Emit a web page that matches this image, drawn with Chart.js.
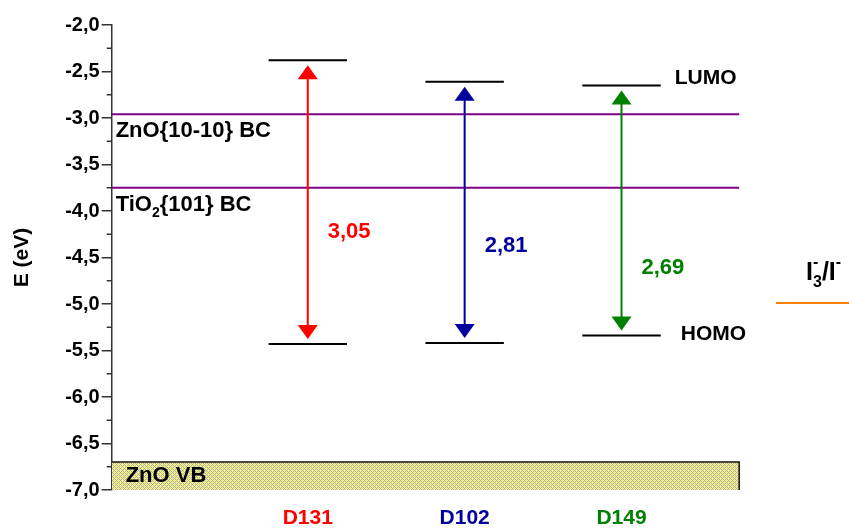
<!DOCTYPE html>
<html>
<head>
<meta charset="utf-8">
<script src="https://cdn.jsdelivr.net/npm/chart.js@4/dist/chart.umd.min.js"></script>
<style>
  html, body { margin: 0; padding: 0; background: #fff; }
</style>
</head>
<body>
<canvas id="levels" width="849" height="529"></canvas>
<script>
// energy levels (eV)
const dyes = ['D131', 'D102', 'D149'];
const lumo = [-2.38, -2.61, -2.65];
const homo = [-5.43, -5.42, -5.34];
const slotStart = [2, 4, 6];
const slotEnd = [3, 5, 7];

const znoBC = -2.96;
const tio2BC = -3.75;
const znoVB = -6.7;
const redox = -4.99;

const yMin = -7, yMax = -2, yStep = 0.5;

const FONT = "'Liberation Sans', Arial, sans-serif";
const dyeColors = ['#ff0000', '#00009c', '#008000'];
// where the gap numbers sit (eV)
const gapLabelAt = [-4.22, -4.38, -4.61];

// text with sub / superscripts
function runs(ctx, x, y, parts, size) {
  let cx = x;
  const small = `bold ${Math.round(size * 0.62)}px ${FONT}`;
  parts.forEach(p => {
    if (p.stack) {
      ctx.font = small;
      const w = Math.max(ctx.measureText(p.sub).width, ctx.measureText(p.sup).width);
      ctx.fillText(p.sub, cx, y + size * 0.38);
      ctx.fillText(p.sup, cx, y - size * 0.4);
      cx += w;
    } else if (p.sub) {
      ctx.font = small;
      ctx.fillText(p.sub, cx, y + size * 0.38);
      cx += ctx.measureText(p.sub).width;
    } else if (p.sup) {
      ctx.font = small;
      ctx.fillText(p.sup, cx, y - size * 0.4);
      cx += ctx.measureText(p.sup).width;
    } else {
      ctx.font = `bold ${size}px ${FONT}`;
      ctx.fillText(p.t, cx, y);
      cx += ctx.measureText(p.t).width;
    }
  });
}

const decor = {
  id: 'decor',
  beforeDatasetsDraw(chart) {
    // ZnO valence band, cross-hatched yellow/grey
    const {ctx, scales: {x, y}} = chart;
    const l = Math.round(x.getPixelForValue(0));
    const r = Math.round(x.getPixelForValue(8));
    const t = Math.round(y.getPixelForValue(znoVB));
    const b = Math.round(y.getPixelForValue(yMin));
    ctx.save();
    ctx.fillStyle = '#f4f27a';
    ctx.fillRect(l, t, r - l, b - t);
    ctx.fillStyle = '#b0b0bc';
    for (let py = t; py < b; py++) {
      for (let px = l; px < r; px++) {
        const a = (px + py) % 4, c = (px - py + 400) % 4;
        if (a === 0 || c === 0) ctx.fillRect(px, py, 1, 1);
      }
    }
    ctx.restore();
  },
  afterDatasetsDraw(chart) {
    const {ctx, chartArea: area, scales: {x, y}} = chart;
    ctx.save();

    // minor ticks
    ctx.strokeStyle = '#333';
    ctx.lineWidth = 1.5;
    for (let v = yMin + yStep / 2; v < yMax; v += yStep) {
      const py = y.getPixelForValue(v);
      ctx.beginPath();
      ctx.moveTo(area.left - 5, py);
      ctx.lineTo(area.left, py);
      ctx.stroke();
    }

    // double arrows HOMO <-> LUMO
    dyes.forEach((d, i) => {
      const px = x.getPixelForValue((slotStart[i] + slotEnd[i]) / 2);
      const top = y.getPixelForValue(lumo[i]) + 5;
      const bot = y.getPixelForValue(homo[i]) - 5;
      ctx.strokeStyle = dyeColors[i];
      ctx.fillStyle = dyeColors[i];
      ctx.lineWidth = 2;
      ctx.beginPath();
      ctx.moveTo(px, top + 10);
      ctx.lineTo(px, bot - 10);
      ctx.stroke();
      [[top, 1], [bot, -1]].forEach(([ty, dir]) => {
        ctx.beginPath();
        ctx.moveTo(px, ty);
        ctx.lineTo(px - 10, ty + dir * 14);
        ctx.lineTo(px + 10, ty + dir * 14);
        ctx.closePath();
        ctx.fill();
      });
      const gap = (lumo[i] - homo[i]).toFixed(2).replace('.', ',');
      ctx.textBaseline = 'middle';
      ctx.textAlign = 'left';
      ctx.font = `bold 22px ${FONT}`;
      ctx.fillText(gap, px + 20, y.getPixelForValue(gapLabelAt[i]));
    });

    // band labels
    ctx.fillStyle = '#000';
    ctx.textBaseline = 'middle';
    ctx.textAlign = 'left';
    runs(ctx, area.left + 4, y.getPixelForValue(znoBC) + 17, [{t: 'ZnO{10-10} BC'}], 22);
    runs(ctx, area.left + 4, y.getPixelForValue(tio2BC) + 17, [{t: 'TiO'}, {sub: '2'}, {t: '{101} BC'}], 22);
    runs(ctx, area.left + 14, y.getPixelForValue(znoVB) + 14, [{t: 'ZnO VB'}], 22);
    const lastEnd = x.getPixelForValue(slotEnd[2]);
    runs(ctx, lastEnd + 14, y.getPixelForValue(lumo[2]) - 7, [{t: 'LUMO'}], 21);
    runs(ctx, lastEnd + 20, y.getPixelForValue(homo[2]) - 1, [{t: 'HOMO'}], 21);
    runs(ctx, x.getPixelForValue(8.47) + 30, y.getPixelForValue(redox) - 30,
      [{t: 'I'}, {stack: true, sub: '3', sup: '-'}, {t: '/I'}, {sup: '-'}], 25);

    ctx.restore();
  }
};

const line = (data, color, width) => ({
  data, borderColor: color, borderWidth: width, pointRadius: 0, fill: false, tension: 0
});

const levelPts = [];
dyes.forEach((d, i) => {
  levelPts.push({x: slotStart[i], y: lumo[i]}, {x: slotEnd[i], y: lumo[i]}, {x: slotEnd[i], y: null});
  levelPts.push({x: slotStart[i], y: homo[i]}, {x: slotEnd[i], y: homo[i]}, {x: slotEnd[i], y: null});
});

new Chart(document.getElementById('levels'), {
  type: 'line',
  data: {
    datasets: [
      line([{x: 0, y: znoVB}, {x: 8, y: znoVB}, {x: 8, y: yMin}], '#111', 1.5),
      line([{x: 0, y: znoBC}, {x: 8, y: znoBC}], '#800080', 2),
      line([{x: 0, y: tio2BC}, {x: 8, y: tio2BC}], '#800080', 2),
      line([{x: 8.47, y: redox}, {x: 9.4, y: redox}], '#ff8000', 2),
      Object.assign(line(levelPts, '#000', 2), {spanGaps: false})
    ]
  },
  options: {
    responsive: false,
    animation: false,
    devicePixelRatio: 1,
    layout: {padding: {top: 25, left: 0, right: 0, bottom: 0}},
    plugins: {legend: {display: false}, tooltip: {enabled: false}},
    scales: {
      x: {
        type: 'linear',
        min: 0,
        max: 9.4,
        grid: {display: false, drawTicks: false},
        border: {display: false},
        afterBuildTicks: s => {
          s.ticks = dyes.map((d, i) => ({value: (slotStart[i] + slotEnd[i]) / 2}));
        },
        afterFit: s => { s.height = 39; },
        ticks: {
          autoSkip: false,
          maxRotation: 0,
          padding: 16,
          font: {family: FONT, size: 21, weight: 'bold'},
          color: c => dyeColors[c.index],
          callback: (v, i) => dyes[i]
        }
      },
      y: {
        min: yMin,
        max: yMax,
        ticks: {
          stepSize: yStep,
          padding: 2,
          color: '#000',
          font: {family: FONT, size: 20, weight: 'bold'},
          callback: v => v.toFixed(1).replace('.', ',')
        },
        grid: {drawOnChartArea: false, tickLength: 10, color: '#333', lineWidth: 1.5},
        border: {color: '#333', width: 1.5},
        title: {
          display: true,
          text: 'E (eV)',
          color: '#000',
          font: {family: FONT, size: 21, weight: 'bold'},
          padding: {top: 10, bottom: 28}
        }
      }
    }
  },
  plugins: [decor]
});
</script>
</body>
</html>
